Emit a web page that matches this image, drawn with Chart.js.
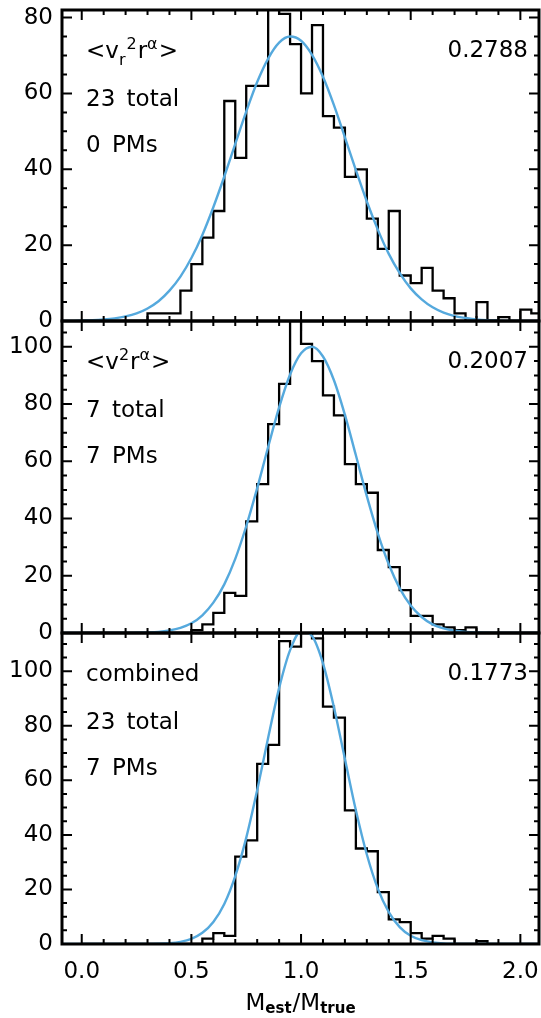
<!DOCTYPE html>
<html>
<head>
<meta charset="utf-8">
<script src="https://cdn.jsdelivr.net/npm/chart.js@4.4.0/dist/chart.umd.min.js"></script>
<style>
  html, body { margin: 0; padding: 0; background: #fff; }
  #wrap { position: relative; width: 541px; height: 1018px; overflow: hidden; }
  canvas { position: absolute; left: 0; }
</style>
</head>
<body>
<div id="wrap">
  <canvas id="p1" width="541" height="345" style="top:0px"></canvas>
  <canvas id="p2" width="541" height="345" style="top:311px"></canvas>
  <canvas id="p3" width="541" height="395" style="top:623px"></canvas>
</div>
<script>
// left edges of the 0.05-wide bins, plus the right edge of the last one
const binLeft = [0.00, 0.05, 0.10, 0.15, 0.20, 0.25, 0.30, 0.35, 0.40, 0.45,
  0.50, 0.55, 0.60, 0.65, 0.70, 0.75, 0.80, 0.85, 0.90, 0.95,
  1.00, 1.05, 1.10, 1.15, 1.20, 1.25, 1.30, 1.35, 1.40, 1.45,
  1.50, 1.55, 1.60, 1.65, 1.70, 1.75, 1.80, 1.85, 1.90, 1.95,
  2.00, 2.05];
const binRight = 2.10;

// histogram counts per bin
const countsRadial = [0, 0, 0, 0, 0, 0, 2, 2, 2, 8,
  15, 22, 29, 58, 43, 62, 62, 85, 81, 73,
  60, 78, 54, 51, 38, 40, 27, 19, 29, 12,
  10, 14, 8, 6, 2, 0, 5, 0, 1, 0,
  3, 2];
const countsFull = [0, 0, 0, 0, 0, 0, 0, 0, 0, 0,
  1, 3, 7, 14, 13, 39, 52, 73, 87, 112,
  101, 95, 83, 76, 59, 52, 49, 29, 23, 15,
  6, 6, 3, 2, 1, 2, 0, 0, 0, 0,
  0, 0];
const countsCombined = [0, 0, 0, 0, 0, 0, 0, 0, 0, 0,
  0, 2, 4, 3, 32, 38, 66, 73, 111, 109,
  118, 112, 87, 83, 49, 35, 34, 19, 9, 8,
  4, 2, 3, 2, 0, 0, 1, 0, 0, 0,
  0, 0];

// fitted curves
const fitX = [-0.10, -0.05, 0.00, 0.05, 0.10, 0.15, 0.20, 0.25, 0.30, 0.35,
  0.40, 0.45, 0.50, 0.55, 0.60, 0.65, 0.70, 0.75, 0.80, 0.85,
  0.90, 0.95, 1.00, 1.05, 1.10, 1.15, 1.20, 1.25, 1.30, 1.35,
  1.40, 1.45, 1.50, 1.55, 1.60, 1.65, 1.70, 1.75, 1.80, 1.85,
  1.90, 1.95, 2.00, 2.05, 2.10];
const fitRadial = [0, 0, 0.1, 0.2, 0.4, 0.7, 1.2, 2.0, 3.3, 5.2,
  8.0, 11.7, 16.6, 22.7, 30.0, 38.1, 46.7, 55.2, 63.0, 69.2,
  73.4, 75.0, 73.9, 70.2, 64.4, 56.9, 48.4, 39.8, 31.5, 24.1,
  17.7, 12.6, 8.6, 5.7, 3.6, 2.2, 1.3, 0.8, 0.4, 0.2,
  0.1, 0, 0, 0, 0];
const fitFull = [0, 0, 0, 0, 0, 0, 0, 0.1, 0.2, 0.4,
  0.9, 1.8, 3.4, 6.2, 10.6, 17.0, 25.9, 37.3, 50.6, 65.0,
  78.8, 90.3, 97.7, 100.0, 96.6, 88.3, 76.2, 62.1, 47.8, 34.8,
  24.0, 15.6, 9.6, 5.6, 3.0, 1.6, 0.8, 0.4, 0.2, 0.1,
  0, 0, 0, 0, 0];
const fitCombined = [0, 0, 0, 0, 0, 0, 0, 0, 0, 0.1,
  0.3, 0.8, 1.9, 4.1, 8.1, 14.7, 24.9, 38.9, 56.4, 75.6,
  93.8, 107.7, 114.6, 112.9, 102.9, 86.8, 67.8, 49.0, 32.8, 20.3,
  11.7, 6.2, 3.0, 1.4, 0.6, 0.2, 0.1, 0, 0, 0,
  0, 0, 0, 0, 0];

const yMaxes = [82, 109, 114];
const spreads = ["0.2788", "0.2007", "0.1773"];
const totals = ["23 total", "7 total", "23 total"];
const pms = ["0 PMs", "7 PMs", "7 PMs"];
// estimator names as [text, position] with -1 sub, 1 super
const estimators = [
  [["<", 0], ["v", 0], ["r", -1], ["2", 1], ["r", 0], ["α", 1], [">", 0]],
  [["<", 0], ["v", 0], ["2", 1], ["r", 0], ["α", 1], [">", 0]],
  [["combined", 0]],
];

const FONT = '"DejaVu Sans", sans-serif';
const BLUE = "#55a9dd";

function steps(counts) {
  const pts = binLeft.map((x, i) => ({ x: x, y: counts[i] }));
  pts.push({ x: binRight, y: counts[counts.length - 1] });
  return pts;
}

function drawRich(ctx, segs, x, base, big, small, subShift) {
  segs.forEach(([t, pos]) => {
    ctx.font = pos === 0 ? big : small;
    let dy = 0;
    if (pos < 0) dy = subShift;
    if (pos > 0) dy = -9;
    ctx.fillText(t, x, base + dy);
    x += ctx.measureText(t).width + (pos === 0 ? 0 : 1);
  });
}

function richWidth(ctx, segs, big, small) {
  let w = 0;
  segs.forEach(([t, pos]) => {
    ctx.font = pos === 0 ? big : small;
    w += ctx.measureText(t).width + (pos === 0 ? 0 : 1);
  });
  return w;
}

const frame = {
  id: "frame",
  afterDatasetsDraw(chart, args, opts) {
    const { ctx, chartArea: a, scales } = chart;
    const x = scales.x, y = scales.y;
    ctx.save();
    ctx.strokeStyle = "#000";
    ctx.lineWidth = 2;
    ctx.beginPath();
    for (let i = 0; i <= 20; i++) {
      const px = x.getPixelForValue(i / 10);
      const len = i % 5 === 0 ? 10 : 5;
      ctx.moveTo(px, a.bottom); ctx.lineTo(px, a.bottom - len);
      ctx.moveTo(px, a.top); ctx.lineTo(px, a.top + len);
    }
    for (let v = 0; v <= y.max; v += 5) {
      const py = y.getPixelForValue(v);
      const len = v % 20 === 0 ? 10 : 5;
      ctx.moveTo(a.left, py); ctx.lineTo(a.left + len, py);
      ctx.moveTo(a.right, py); ctx.lineTo(a.right - len, py);
    }
    ctx.stroke();
    ctx.lineWidth = 3;
    ctx.strokeRect(a.left, a.top, a.right - a.left, a.bottom - a.top);

    // panel annotations
    const k = opts.panel;
    ctx.fillStyle = "#000";
    ctx.textBaseline = "alphabetic";
    ctx.textAlign = "left";
    drawRich(ctx, estimators[k], 86, a.top + 48, "23px " + FONT, "16px " + FONT, 7);
    ctx.font = "23px " + FONT;
    ctx.wordSpacing = "4px";
    ctx.fillText(totals[k], 86, a.top + 96);
    ctx.fillText(pms[k], 86, a.top + 142);
    ctx.wordSpacing = "0px";
    ctx.textAlign = "right";
    ctx.fillText(spreads[k], 528, a.top + 47);

    if (opts.title) {
      const segs = [["M", 0], ["est", -1], ["/", 0], ["M", 0], ["true", -1]];
      const big = "23px " + FONT, small = "bold 15px " + FONT;
      ctx.textAlign = "left";
      const w = richWidth(ctx, segs, big, small);
      drawRich(ctx, segs, x.getPixelForValue(1.0) - w / 2, a.bottom + 66, big, small, 3);
    }
    ctx.restore();
  },
};

function makePanel(id, counts, fit, k, showX) {
  return new Chart(document.getElementById(id), {
    type: "line",
    data: {
      datasets: [
        {
          data: fitX.map((x, i) => ({ x: x, y: fit[i] })),
          borderColor: BLUE,
          borderWidth: 2.4,
          pointRadius: 0,
          cubicInterpolationMode: "monotone",
          fill: false,
          order: 1,
        },
        {
          data: steps(counts),
          borderColor: "#000",
          borderWidth: 2.3,
          pointRadius: 0,
          stepped: "before",
          fill: false,
          order: 2,
        },
      ],
    },
    options: {
      responsive: false,
      animation: false,
      events: [],
      layout: { padding: { top: 10, right: 2, left: 0, bottom: showX ? 0 : (id === "p1" ? 24 : 23) } },
      plugins: {
        legend: { display: false },
        tooltip: { enabled: false },
        frame: { panel: k, title: showX },
      },
      scales: {
        x: {
          type: "linear",
          min: -0.09,
          max: 2.085,
          display: showX,
          grid: { display: false, drawTicks: false },
          border: { display: false },
          ticks: {
            stepSize: 0.5,
            includeBounds: false,
            autoSkip: false,
            maxRotation: 0,
            padding: 14,
            color: "#000",
            font: { family: FONT, size: 23 },
            callback: (v) => v.toFixed(1),
          },
          afterFit: (s) => {
            s.height = showX ? 74 : 0;
            s.paddingLeft = 0;
            s.paddingRight = 0;
          },
        },
        y: {
          type: "linear",
          min: 0,
          max: yMaxes[k],
          grid: { display: false, drawTicks: false },
          border: { display: false },
          ticks: {
            stepSize: 20,
            includeBounds: false,
            autoSkip: false,
            padding: 9,
            color: "#000",
            font: { family: FONT, size: 23 },
          },
          afterFit: (s) => {
            s.width = 62;
            s.paddingTop = 0;
            s.paddingBottom = 0;
          },
        },
      },
    },
    plugins: [frame],
  });
}

makePanel("p1", countsRadial, fitRadial, 0, false);
makePanel("p2", countsFull, fitFull, 1, false);
makePanel("p3", countsCombined, fitCombined, 2, true);
</script>
</body>
</html>
